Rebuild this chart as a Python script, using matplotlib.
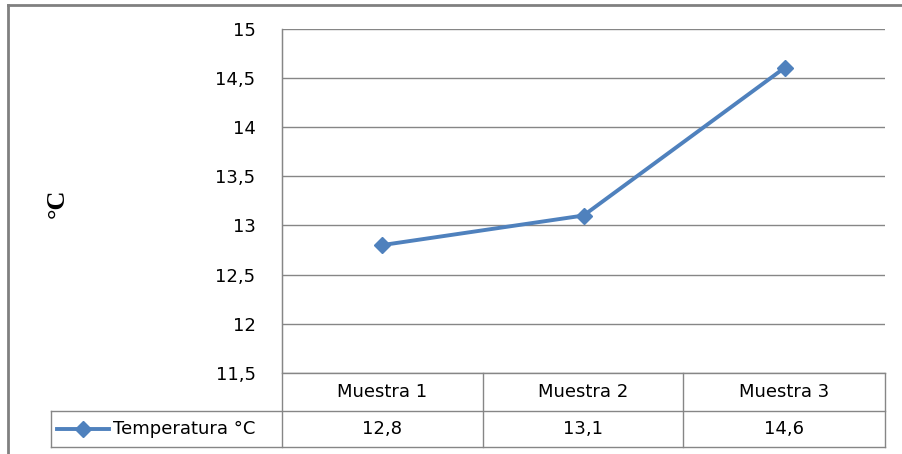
import matplotlib
matplotlib.use("Agg")
import matplotlib.pyplot as plt
from matplotlib.lines import Line2D

categories = ["Muestra 1", "Muestra 2", "Muestra 3"]
temperatura = [12.8, 13.1, 14.6]
series_name = "Temperatura °C"
y_ticks = [11.5, 12, 12.5, 13, 13.5, 14, 14.5, 15]

W, H = 903, 454
fig = plt.figure(figsize=(W / 100, H / 100), dpi=100)
fig.patch.set_facecolor("white")
plt.rcParams["font.family"] = ["DejaVu Sans"]

def fx(px):
    return px / W

def fy(py):
    return 1 - py / H

LINE = "#4F81BD"
GRID = "#868686"
FS = 13

# plot area
x0, x1, ytop, ybot = 282, 885, 28.5, 373
ax = fig.add_axes([fx(x0), fy(ybot), fx(x1) - fx(x0), fy(ytop) - fy(ybot)])
ax.set_xlim(0, len(categories))
ax.set_ylim(y_ticks[0], y_ticks[-1])
ax.set_yticks(y_ticks)
ax.set_yticklabels([f"{v:g}".replace(".", ",") for v in y_ticks], fontsize=FS)
ax.set_xticks([])
ax.yaxis.grid(True, color=GRID, linewidth=1)
ax.set_axisbelow(True)
for s in ["top", "right", "bottom"]:
    ax.spines[s].set_visible(False)
ax.spines["left"].set_color(GRID)
ax.tick_params(axis="y", length=0, pad=19)
xs = [i + 0.5 for i in range(len(categories))]
ax.plot(xs, temperatura, color=LINE, linewidth=2.8, marker="D", markersize=8, clip_on=False)

# axis title
fig.text(fx(57), fy(203), "°C", rotation=90, ha="center", va="center",
         fontsize=19, family="Liberation Serif", fontweight="bold")

# data table beneath the axis
row1, row2, row3 = 373, 411, 447
col_edges = [x0, 483, 683, x1]
leg_left = 51

def hline(y, xa, xb):
    fig.add_artist(Line2D([fx(xa), fx(xb)], [fy(y), fy(y)], color=GRID, linewidth=1))

def vline(x, ya, yb):
    fig.add_artist(Line2D([fx(x), fx(x)], [fy(ya), fy(yb)], color=GRID, linewidth=1))

hline(row1, x0, x1)
hline(row2, leg_left, x1)
hline(row3, leg_left, x1)
for cx in col_edges:
    vline(cx, row1 if cx != x0 else ytop, row3)
vline(leg_left, row2, row3)

for i, (cat, val) in enumerate(zip(categories, temperatura)):
    cx = (col_edges[i] + col_edges[i + 1]) / 2
    fig.text(fx(cx), fy((row1 + row2) / 2), cat, ha="center", va="center", fontsize=FS)
    fig.text(fx(cx), fy((row2 + row3) / 2), f"{val:g}".replace(".", ","),
             ha="center", va="center", fontsize=FS)

# legend key in the table
ky = (row2 + row3) / 2
fig.add_artist(Line2D([fx(57), fx(109)], [fy(ky), fy(ky)], color=LINE, linewidth=2.8))
fig.add_artist(Line2D([fx(83)], [fy(ky)], color=LINE, marker="D", markersize=8))
fig.text(fx(113), fy(ky), series_name, ha="left", va="center", fontsize=FS)

# chart border
fig.add_artist(Line2D([fx(8), fx(8)], [fy(5), fy(H)], color="#808080", linewidth=2))
fig.add_artist(Line2D([fx(8), fx(W)], [fy(5), fy(5)], color="#808080", linewidth=2))

fig.savefig("out.png", dpi=100)
